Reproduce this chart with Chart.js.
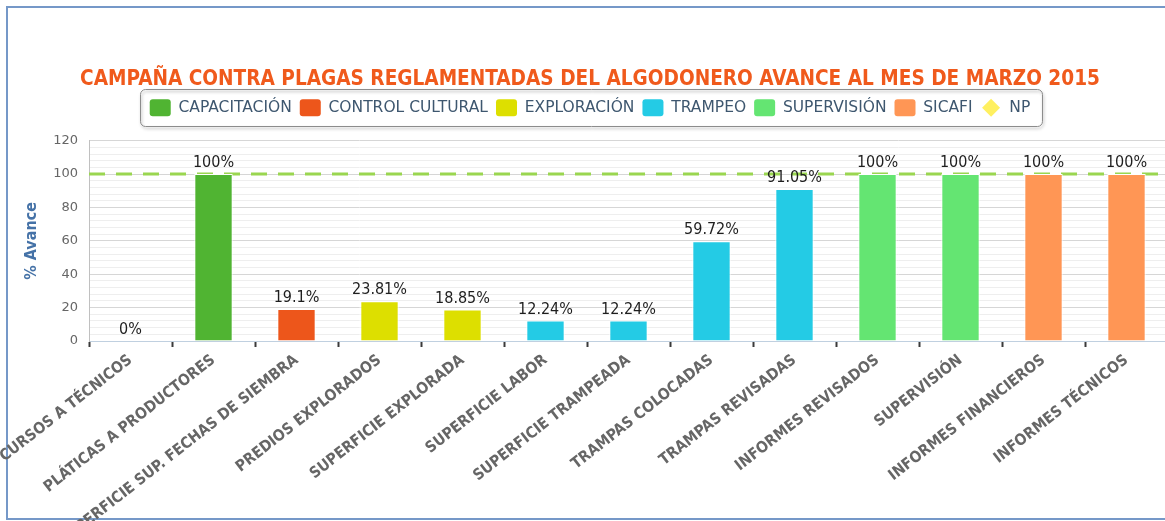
<!DOCTYPE html>
<html><head><meta charset="utf-8">
<script src="https://cdn.jsdelivr.net/npm/chart.js@4"></script>
<style>
html,body{margin:0;padding:0;background:#fff;overflow:hidden;width:1165px;height:521px;}
#frame{position:absolute;left:6px;top:6px;width:1300px;height:514px;box-sizing:border-box;border:2px solid #7598c8;}
#wrap{position:absolute;left:0;top:0;width:1180px;height:521px;}
</style></head><body>
<div id="frame"></div>
<div id="wrap"><canvas id="c" width="1180" height="521"></canvas></div>
<script>
const categories = ['CURSOS A TÉCNICOS','PLÁTICAS A PRODUCTORES','SUPERFICIE SUP. FECHAS DE SIEMBRA','PREDIOS EXPLORADOS','SUPERFICIE EXPLORADA','SUPERFICIE LABOR','SUPERFICIE TRAMPEADA','TRAMPAS COLOCADAS','TRAMPAS REVISADAS','INFORMES REVISADOS','SUPERVISIÓN','INFORMES FINANCIEROS','INFORMES TÉCNICOS'];
const values = [0, 100, 19.1, 23.81, 18.85, 12.24, 12.24, 59.72, 91.05, 100, 100, 100, 100];
const seriesNames = ['CAPACITACIÓN','CONTROL CULTURAL','EXPLORACIÓN','TRAMPEO','SUPERVISIÓN','SICAFI'];
const seriesColors = ['#50b432','#ed561b','#dddf00','#24cbe5','#64e572','#ff9655'];
const categorySeries = [0, 0, 1, 2, 2, 3, 3, 3, 3, 4, 4, 5, 5];
const npName = 'NP';
const npValues = [100, 100];
const yTicks = [0, 20, 40, 60, 80, 100, 120];
const titleText = 'CAMPAÑA CONTRA PLAGAS REGLAMENTADAS DEL ALGODONERO AVANCE AL MES DE MARZO 2015';

const FONT = "'DejaVu Sans Condensed', 'DejaVu Sans', sans-serif";
const FONT_REG = "'DejaVu Sans', sans-serif";

const barSets = seriesNames.map((name, s) => ({
  type: 'bar',
  label: name,
  data: categories.map((_, i) => categorySeries[i] === s ? values[i] : null),
  backgroundColor: seriesColors[s],
  borderColor: '#ffffff',
  borderWidth: 1,
  grouped: false,
  categoryPercentage: 1,
  barPercentage: 0.462,
  order: 0
}));

const npSet = {
  type: 'line',
  label: npName,
  data: npValues.map((v, i) => ({x: i * categories.length, y: v})),
  xAxisID: 'xNP',
  yAxisID: 'y',
  borderColor: '#9ad650',
  backgroundColor: '#fff060',
  borderWidth: 3,
  borderDash: [16, 11],
  pointRadius: 0,
  fill: false,
  order: 10
};

const dataLabels = {
  id: 'dataLabels',
  afterDatasetsDraw(chart) {
    const ctx = chart.ctx;
    ctx.save();
    ctx.font = "16px " + FONT;
    ctx.fillStyle = '#1e1e1e';
    ctx.textAlign = 'center';
    ctx.textBaseline = 'alphabetic';
    chart.data.datasets.forEach((ds, di) => {
      if (ds.type !== 'bar') return;
      const meta = chart.getDatasetMeta(di);
      meta.data.forEach((el, i) => {
        const v = ds.data[i];
        if (v === null || v === undefined) return;
        ctx.fillText(String(v) + '%', el.x, el.y - 7);
      });
    });
    ctx.restore();
  }
};

const legendFrame = {
  id: 'legendFrame',
  afterDraw(chart) {
    const lg = chart.legend;
    const hb = lg && lg.legendHitBoxes;
    if (!hb || !hb.length) return;
    const ctx = chart.ctx;
    const l = Math.min(...hb.map(h => h.left));
    const r = Math.max(...hb.map(h => h.left + h.width));
    const t = Math.min(...hb.map(h => h.top));
    const b = Math.max(...hb.map(h => h.top + h.height));
    ctx.save();
    ctx.shadowColor = 'rgba(0,0,0,0.35)';
    ctx.shadowOffsetX = 1;
    ctx.shadowOffsetY = 2;
    ctx.shadowBlur = 3;
    ctx.strokeStyle = '#8c8c8c';
    ctx.lineWidth = 1;
    ctx.beginPath();
    ctx.roundRect(Math.round(l - 10) + 0.5, Math.round(t - 10.5) + 0.5, Math.round(r - l + 21), Math.round(b - t + 20), 5);
    ctx.stroke();
    ctx.restore();
    lg.legendItems.forEach((it, i) => {
      if (it.text !== npName) return;
      const h = hb[i];
      const cx = h.left + 10.5, cy = h.top + h.height / 2;
      ctx.save();
      ctx.fillStyle = npSet.backgroundColor;
      ctx.beginPath();
      ctx.moveTo(cx, cy - 9); ctx.lineTo(cx + 9, cy); ctx.lineTo(cx, cy + 9); ctx.lineTo(cx - 9, cy);
      ctx.closePath();
      ctx.fill();
      ctx.restore();
    });
  }
};

new Chart(document.getElementById('c'), {
  type: 'bar',
  data: { labels: categories, datasets: [...barSets, npSet] },
  options: {
    responsive: false,
    animation: false,
    devicePixelRatio: 1,
    layout: { padding: { top: 67, left: 0, right: 0, bottom: 0 } },
    plugins: {
      tooltip: { enabled: false },
      title: {
        display: true, text: titleText, color: '#f05a1c',
        font: { family: FONT, size: 20.6, weight: 'bold', lineHeight: 1.2 },
        padding: { top: 0, bottom: -0.5 }
      },
      subtitle: {
        display: true, text: '', weight: 500, position: 'top', padding: 0,
        font: { size: 10, lineHeight: 1.45 }
      },
      legend: {
        display: true, position: 'top',
        labels: {
          color: '#3e576f', font: { family: FONT_REG, size: 15.5 },
          boxWidth: 21, boxHeight: 17, padding: 8,
          useBorderRadius: true, borderRadius: 3,
          generateLabels(chart) {
            const items = Chart.defaults.plugins.legend.labels.generateLabels(chart);
            return items.map(it => {
              it.lineWidth = 0;
              it.strokeStyle = 'rgba(0,0,0,0)';
              if (it.text === npName) { it.fillStyle = 'rgba(0,0,0,0)'; it.lineDash = []; }
              return it;
            });
          }
        }
      }
    },
    scales: {
      x: {
        type: 'category',
        offset: true,
        grid: { offset: true, drawOnChartArea: false, drawTicks: true, tickLength: 6, tickWidth: 2, tickColor: '#3a3a3a' },
        border: { display: true, color: '#c0d0e0', width: 1 },
        ticks: { autoSkip: false, minRotation: 38, maxRotation: 38, padding: 4, color: '#666666',
                 font: { family: FONT, size: 15.5, weight: 'bold' } },
        afterFit(s) { s.height = 180; s.paddingLeft = 0; s.paddingRight = 0; }
      },
      xNP: { type: 'linear', display: false, min: 0, max: categories.length, offset: false },
      y: {
        min: 0, max: 120,
        ticks: { stepSize: 4, autoSkip: false, padding: 11, color: '#666666', font: { family: FONT_REG, size: 13 },
                 callback: v => yTicks.includes(v) ? String(v) : '' },
        grid: { color: c => yTicks.includes(c.tick.value) ? '#d6d6d6' : '#eeeeee', drawTicks: false, lineWidth: 1 },
        border: { display: true, color: '#c0c0c0' },
        title: { display: true, text: '% Avance', color: '#4572a7',
                 font: { family: FONT, size: 16, weight: 'bold' }, padding: { top: 22, bottom: 0 } },
        afterFit(s) { s.width = 89; }
      },
      yR: {
        type: 'linear', position: 'right', display: true,
        grid: { display: false, drawTicks: false }, border: { display: false },
        ticks: { display: false },
        afterFit(s) { s.width = 12; }
      }
    }
  },
  plugins: [dataLabels, legendFrame]
});
</script>
</body></html>
